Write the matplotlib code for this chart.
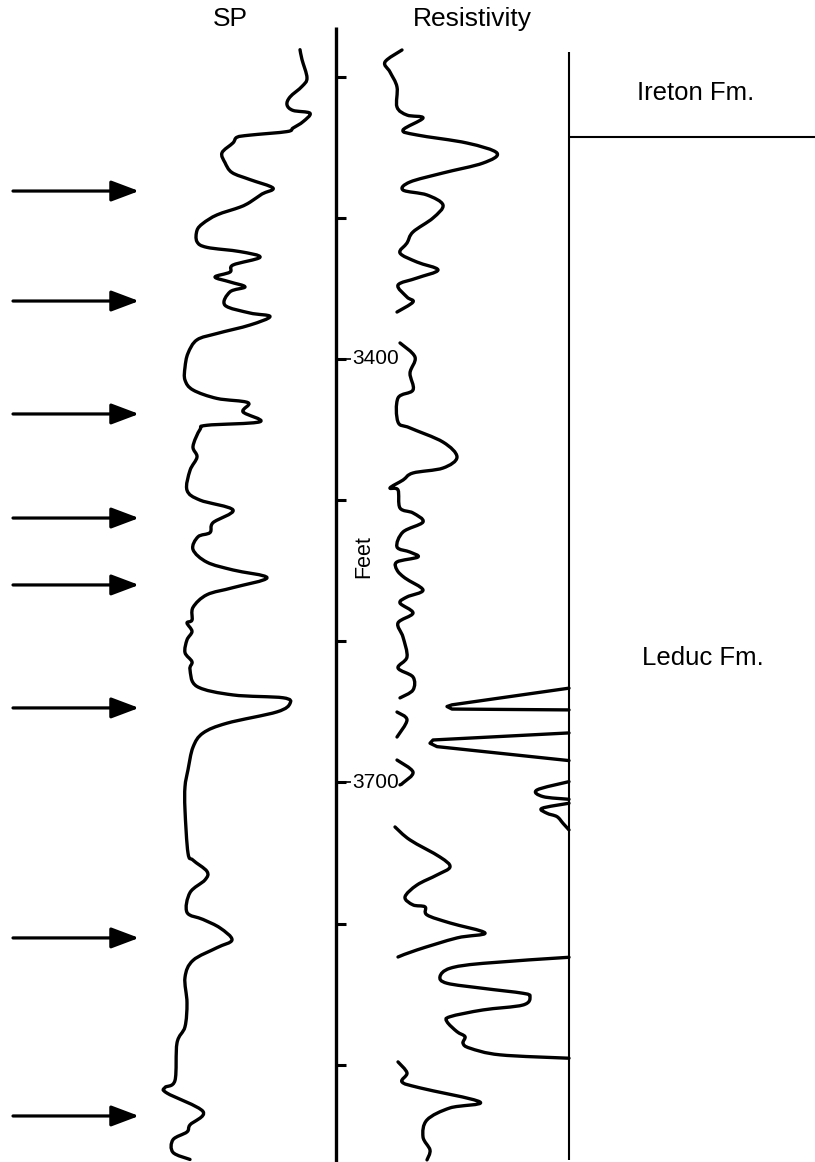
import matplotlib
matplotlib.use("Agg")
import matplotlib.pyplot as plt
from matplotlib.path import Path
from matplotlib.patches import PathPatch

plt.rcParams['font.family'] = ['Liberation Sans', 'DejaVu Sans']

sp_depth = [3181, 3188, 3201, 3207, 3214.5, 3220, 3224, 3226, 3232, 3236.5,
            3239, 3241.5, 3243, 3247, 3254, 3261, 3268, 3273, 3279, 3283.2,
            3289, 3292.5, 3298, 3304, 3309, 3317, 3321, 3324, 3328, 3333.5,
            3338.5, 3342, 3345.5, 3349, 3352.5, 3362, 3367.5, 3370, 3376, 3382,
            3386.5, 3396, 3406, 3415, 3422, 3428, 3431, 3437.5, 3444.5, 3447,
            3450, 3462, 3469.5, 3479, 3493, 3500, 3507, 3516, 3523, 3526,
            3535, 3544, 3549.5, 3555, 3562, 3567, 3576, 3585, 3587, 3593,
            3599, 3608, 3614.5, 3620, 3632, 3638, 3640, 3644, 3650, 3658,
            3665, 3675, 3691, 3703, 3719.5, 3750, 3755, 3763, 3769, 3778,
            3792, 3797, 3803, 3811.5, 3817, 3826, 3838, 3856, 3873, 3884.5,
            3911, 3916, 3920, 3933, 3942.5, 3947.5, 3953, 3962, 3967]
sp_value = [300, 302, 307, 302, 290, 287, 293, 310, 303, 293,
            287, 250, 237, 233, 222, 225, 232, 250, 273, 262,
            250, 240, 217, 203, 197, 197, 207, 240, 260, 233,
            230, 215, 230, 245, 230, 225, 250, 270, 250, 217,
            197, 188, 185, 185, 193, 217, 248, 243, 260, 207,
            200, 193, 197, 190, 187, 200, 233, 213, 210, 198,
            193, 207, 233, 267, 233, 207, 193, 192, 187, 192,
            187, 185, 192, 190, 197, 233, 283, 290, 277, 227,
            203, 193, 188, 185, 185, 188, 193, 207, 205, 190,
            187, 203, 220, 232, 217, 193, 185, 187, 185, 177,
            175, 165, 167, 203, 190, 187, 173, 173, 190]

res1_depth = [3181.2, 3189.7, 3196.8, 3207.4, 3221.6, 3227.3, 3229.4, 3237.9, 3241.4, 3247.1,
              3254.2, 3261.3, 3268.3, 3274.7, 3280.4, 3283.9, 3291.0, 3300.2, 3310.1, 3317.9,
              3325.0, 3331.4, 3337.0, 3342.7, 3347.7, 3356.2, 3359.7, 3366.8]
res1_value = [402, 385, 390, 397, 397, 407, 423, 403, 417, 467,
              497, 483, 443, 410, 403, 427, 443, 433, 413, 407,
              400, 417, 438, 417, 398, 407, 413, 397]

res2_depth = [3388.7, 3398.7, 3410.0, 3422.0, 3427.7, 3444.7, 3448.9, 3458.9, 3469.5, 3477.3,
              3480.8, 3485.8, 3491.4, 3492.8, 3505.6, 3509.1, 3515.5, 3522.6, 3533.2, 3536.8,
              3540.3, 3543.8, 3549.5, 3555.2, 3563.7, 3568.6, 3572.9, 3580.0, 3587.0, 3597.0,
              3611.1, 3618.9, 3625.3, 3634.5, 3640.1]
res2_value = [400, 415, 410, 413, 398, 398, 410, 443, 457, 443,
              413, 403, 390, 398, 400, 413, 423, 403, 397, 410,
              418, 397, 397, 405, 423, 407, 400, 413, 398, 403,
              407, 398, 413, 413, 400]

res3_depth = [3650.1, 3655.7, 3667.8]
res3_value = [397, 407, 397]

res4_depth = [3684.1, 3692.6, 3700.3, 3701.7]
res4_value = [397, 413, 403, 400]

res5_depth = [3731.5, 3740.7, 3752.8, 3759.8, 3765.5, 3772.6, 3781.1, 3786.7, 3788.1, 3793.8,
              3799.5, 3806.6, 3810.1, 3818.6, 3823.6]
res5_value = [395, 410, 440, 450, 437, 417, 405, 413, 425, 427,
              450, 485, 457, 417, 398]

res6_depth = [3897.9, 3905.7, 3912.1, 3916.3, 3926.3, 3930.5, 3939.0, 3951.0, 3960.3, 3967.3]
res6_value = [398, 407, 402, 420, 480, 450, 427, 423, 430, 427]

# backup-scale deflections hanging off the right edge of the track
back1_depth = [3633.2, 3645.0, 3646.2, 3648.0, 3648.6]
back1_value = [569, 452, 447, 452, 569]
back2_depth = [3664.9, 3669.9, 3672.2, 3674.6, 3684.5]
back2_value = [569, 433, 430, 437, 569]
back3_depth = [3699.4, 3705.3, 3710.0, 3711.9]
back3_value = [569, 537, 543, 569]
back4_depth = [3714.7, 3718.3, 3721.8, 3724.2, 3728.9, 3733.6]
back4_value = [569, 542, 547, 557, 563, 569]
back5_depth = [3823.8, 3828.1, 3831.6, 3837.5, 3842.2, 3845.8, 3849.3, 3851.7, 3857.6, 3861.1,
               3865.9, 3869.4, 3876.5, 3880.0, 3884.7, 3888.2, 3892.9, 3895.3]
back5_value = [569, 483, 450, 440, 447, 483, 523, 530, 523, 483,
               450, 447, 457, 465, 463, 470, 500, 569]

tick_depths = [3200, 3300, 3400, 3500, 3600, 3700, 3800, 3900]
labelled_depths = [3400, 3700]
arrow_depths = [3281.1, 3359.0, 3439.0, 3512.7, 3560.1, 3647.2, 3810.1, 3936.2]
formation_top = 3242.8
formations = ['Ireton Fm.', 'Leduc Fm.']
formation_label_depths = [3211.7, 3611.8]
formation_label_x = [696, 703]


def smooth_curve(ax, xs, ys, **kw):
    # draw a smooth pen trace through the read points (Catmull-Rom as Bezier)
    pts = list(zip(xs, ys))
    n = len(pts)
    verts = [pts[0]]
    codes = [Path.MOVETO]
    for i in range(n - 1):
        p0 = pts[i - 1] if i > 0 else pts[i]
        p1 = pts[i]
        p2 = pts[i + 1]
        p3 = pts[i + 2] if i + 2 < n else pts[i + 1]
        c1 = (p1[0] + (p2[0] - p0[0]) / 6, p1[1] + (p2[1] - p0[1]) / 6)
        c2 = (p2[0] - (p3[0] - p1[0]) / 6, p2[1] - (p3[1] - p1[1]) / 6)
        verts += [c1, c2, p2]
        codes += [Path.CURVE4] * 3
    ax.add_patch(PathPatch(Path(verts, codes), fill=False, edgecolor='black',
                           capstyle='round', joinstyle='round', **kw))


fig = plt.figure(figsize=(8.15, 11.62), dpi=100)
ax = fig.add_axes([0, 0, 1, 1])
ax.set_xlim(0, 815)
ax.set_ylim(3968.8, 3145.8)
ax.axis('off')

LW = 2.4
smooth_curve(ax, sp_value, sp_depth, lw=LW)
for d, v in [(res1_depth, res1_value), (res2_depth, res2_value), (res3_depth, res3_value),
             (res4_depth, res4_value), (res5_depth, res5_value), (res6_depth, res6_value),
             (back3_depth, back3_value), (back4_depth, back4_value), (back5_depth, back5_value)]:
    smooth_curve(ax, v, d, lw=LW)
for d, v in [(back1_depth, back1_value), (back2_depth, back2_value)]:
    ax.plot(v, d, color='black', lw=LW, solid_joinstyle='round', solid_capstyle='round')

# depth scale
ax.vlines(336, 3164.9, 3968.8, color='black', lw=2.4)
ax.hlines(tick_depths, 336, 346, color='black', lw=2.2)
for d in labelled_depths:
    ax.hlines(d, 346, 351, color='black', lw=1.2)
    ax.text(352, d, str(d), fontsize=15, ha='left', va='center')
ax.text(364, 3540.3, 'Feet', fontsize=15.5, rotation=90, ha='center', va='center')

# right edge of resistivity track and formation boundary
ax.vlines(569, 3182.6, 3967.3, color='black', lw=1.5)
ax.hlines(formation_top, 569, 815, color='black', lw=1.5)
for name, x, d in zip(formations, formation_label_x, formation_label_depths):
    ax.text(x, d, name, fontsize=18.5, ha='center', va='center')

# headers
ax.text(230, 3159.5, 'SP', fontsize=19, ha='center', va='center')
ax.text(472, 3159.5, 'Resistivity', fontsize=19, ha='center', va='center')

# arrows marking the zones
for d in arrow_depths:
    ax.annotate('', xy=(139, d), xytext=(13, d),
                arrowprops=dict(arrowstyle='-|>,head_length=0.85,head_width=0.32',
                                mutation_scale=20, lw=2.3, color='black',
                                shrinkA=0, shrinkB=0))

fig.savefig('out.png', dpi=100)
